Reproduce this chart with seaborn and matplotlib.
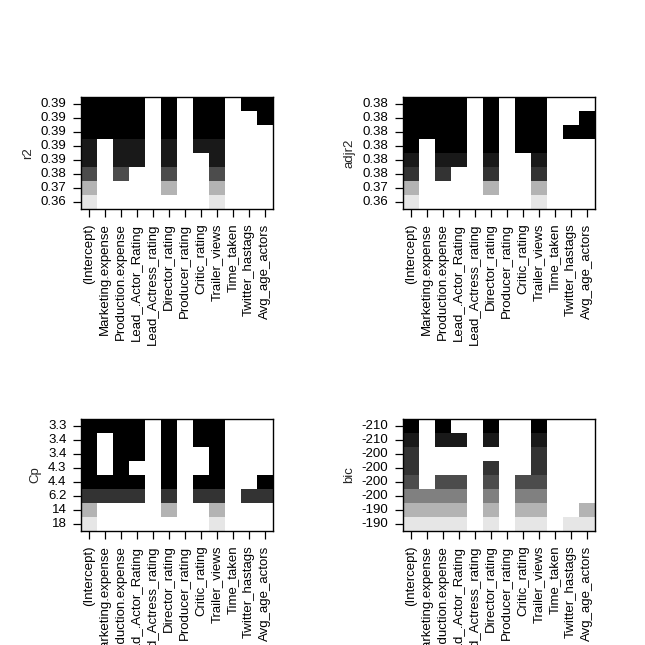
import numpy as np
import pandas as pd
import seaborn as sns
import matplotlib
matplotlib.use("Agg")
import matplotlib.pyplot as plt

# ------------------------------
# data: best-subset models (leaps style plot), rows top -> bottom
# ------------------------------
predictors = ["(Intercept)", "Marketing.expense", "Production.expense",
              "Lead_.Actor_Rating", "Lead_Actress_rating", "Director_rating",
              "Producer_rating", "Critic_rating", "Trailer_views",
              "Time_taken", "Twitter_hastags", "Avg_age_actors"]

r2_labels = ["0.39", "0.39", "0.39", "0.39", "0.39", "0.38", "0.37", "0.36"]
r2_grey = [0.0, 0.0, 0.0, 0.1, 0.1, 0.3, 0.7, 0.9]
r2_which = [
    [1, 1, 1, 1, 0, 1, 0, 1, 1, 0, 1, 1],
    [1, 1, 1, 1, 0, 1, 0, 1, 1, 0, 0, 1],
    [1, 1, 1, 1, 0, 1, 0, 1, 1, 0, 0, 0],
    [1, 0, 1, 1, 0, 1, 0, 1, 1, 0, 0, 0],
    [1, 0, 1, 1, 0, 1, 0, 0, 1, 0, 0, 0],
    [1, 0, 1, 0, 0, 1, 0, 0, 1, 0, 0, 0],
    [1, 0, 0, 0, 0, 1, 0, 0, 1, 0, 0, 0],
    [1, 0, 0, 0, 0, 0, 0, 0, 1, 0, 0, 0],
]

adjr2_labels = ["0.38", "0.38", "0.38", "0.38", "0.38", "0.38", "0.37", "0.36"]
adjr2_grey = [0.0, 0.0, 0.0, 0.0, 0.1, 0.2, 0.7, 0.9]
adjr2_which = [
    [1, 1, 1, 1, 0, 1, 0, 1, 1, 0, 0, 0],
    [1, 1, 1, 1, 0, 1, 0, 1, 1, 0, 0, 1],
    [1, 1, 1, 1, 0, 1, 0, 1, 1, 0, 1, 1],
    [1, 0, 1, 1, 0, 1, 0, 1, 1, 0, 0, 0],
    [1, 0, 1, 1, 0, 1, 0, 0, 1, 0, 0, 0],
    [1, 0, 1, 0, 0, 1, 0, 0, 1, 0, 0, 0],
    [1, 0, 0, 0, 0, 1, 0, 0, 1, 0, 0, 0],
    [1, 0, 0, 0, 0, 0, 0, 0, 1, 0, 0, 0],
]

cp_labels = ["3.3", "3.4", "3.4", "4.3", "4.4", "6.2", "14", "18"]
cp_grey = [0.0, 0.0, 0.0, 0.0, 0.0, 0.2, 0.7, 0.9]
cp_which = [
    [1, 1, 1, 1, 0, 1, 0, 1, 1, 0, 0, 0],
    [1, 0, 1, 1, 0, 1, 0, 1, 1, 0, 0, 0],
    [1, 0, 1, 1, 0, 1, 0, 0, 1, 0, 0, 0],
    [1, 0, 1, 0, 0, 1, 0, 0, 1, 0, 0, 0],
    [1, 1, 1, 1, 0, 1, 0, 1, 1, 0, 0, 1],
    [1, 1, 1, 1, 0, 1, 0, 1, 1, 0, 1, 1],
    [1, 0, 0, 0, 0, 1, 0, 0, 1, 0, 0, 0],
    [1, 0, 0, 0, 0, 0, 0, 0, 1, 0, 0, 0],
]

bic_labels = ["-210", "-210", "-200", "-200", "-200", "-200", "-190", "-190"]
bic_grey = [0.0, 0.1, 0.2, 0.2, 0.3, 0.5, 0.7, 0.9]
bic_which = [
    [1, 0, 1, 0, 0, 1, 0, 0, 1, 0, 0, 0],
    [1, 0, 1, 1, 0, 1, 0, 0, 1, 0, 0, 0],
    [1, 0, 0, 0, 0, 0, 0, 0, 1, 0, 0, 0],
    [1, 0, 0, 0, 0, 1, 0, 0, 1, 0, 0, 0],
    [1, 0, 1, 1, 0, 1, 0, 1, 1, 0, 0, 0],
    [1, 1, 1, 1, 0, 1, 0, 1, 1, 0, 0, 0],
    [1, 1, 1, 1, 0, 1, 0, 1, 1, 0, 0, 1],
    [1, 1, 1, 1, 0, 1, 0, 1, 1, 0, 1, 1],
]

# ------------------------------
# style
# ------------------------------
sns.set_style("white")
plt.rcParams["font.family"] = ["Liberation Sans", "DejaVu Sans"]
plt.rcParams["font.size"] = 9.5

fig = plt.figure(figsize=(6.45, 6.45), dpi=100)

# panel boxes in figure fractions (left, bottom, width, height)
w, h = 192 / 645, 112 / 645
positions = [
    (81 / 645, 1 - 209 / 645, w, h),
    (403 / 645, 1 - 209 / 645, w, h),
    (81 / 645, 1 - 531 / 645, w, h),
    (403 / 645, 1 - 531 / 645, w, h),
]

panels = [
    ("r2", r2_labels, r2_grey, r2_which),
    ("adjr2", adjr2_labels, adjr2_grey, adjr2_which),
    ("Cp", cp_labels, cp_grey, cp_which),
    ("bic", bic_labels, bic_grey, bic_which),
]

for pos, (name, ylabels, grey, which) in zip(positions, panels):
    ax = fig.add_axes(pos)
    inc = np.array(which, dtype=bool)
    vals = np.repeat(np.array(grey)[:, None], len(predictors), axis=1)
    df = pd.DataFrame(vals, index=ylabels, columns=predictors)
    sns.heatmap(df, mask=~inc, cmap="gray", vmin=0, vmax=1, cbar=False,
                xticklabels=predictors, yticklabels=ylabels,
                linewidths=0, ax=ax)
    ax.set_facecolor("white")
    for s in ax.spines.values():
        s.set_visible(True)
        s.set_color("black")
        s.set_linewidth(1)
    ax.tick_params(axis="both", length=5.5, width=0.9, pad=5, colors="black",
                   direction="out", bottom=True, left=True)
    plt.setp(ax.get_xticklabels(), rotation=90)
    plt.setp(ax.get_yticklabels(), rotation=0)
    ax.set_ylabel(name, labelpad=5)
    ax.set_xlabel("")

fig.savefig("out.png", dpi=100)
